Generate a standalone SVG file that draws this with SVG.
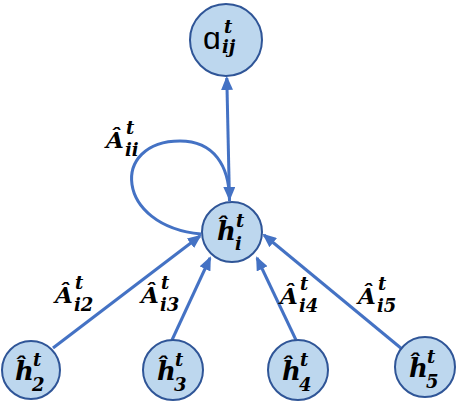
<svg xmlns="http://www.w3.org/2000/svg" width="457" height="404" viewBox="0 0 457 404">
<defs>
<style>
.node{fill:#BDD7EE;stroke:#2F5597;stroke-width:2}
.edge{fill:none;stroke:#4472C4;stroke-width:3;marker-end:url(#ah)}
.m{font-family:"DejaVu Serif","Liberation Serif",serif;font-weight:bold;font-style:italic;fill:#000}
.big{font-size:26px}
.lab{font-size:23px}
.s{font-size:18px}
.al{font-family:"Liberation Sans","DejaVu Sans",sans-serif;font-size:32px;fill:#000}
</style>
<marker id="ah" markerUnits="userSpaceOnUse" markerWidth="14" markerHeight="12" refX="12" refY="6" orient="auto">
<path d="M0,0 L14,6 L0,12 z" fill="#4472C4"/>
</marker>
</defs>
<rect width="457" height="404" fill="#fff"/>
<g id="edges">
<path class="edge" d="M229.5 201 L226.8 78"/>
<path class="edge" d="M201 234 C115 226,110 141,180 141 C214 141,229 166,229.5 199"/>
<path class="edge" d="M53 348 L200 236"/>
<path class="edge" d="M172 340 L210 258"/>
<path class="edge" d="M296 340 L257 258"/>
<path class="edge" d="M402 349 L264 235"/>
</g>
<g id="labels">
<text class="m"><tspan class="lab" x="106" y="148">Â</tspan><tspan class="s" x="126" y="134">t</tspan><tspan class="s" x="125" y="156">ii</tspan></text>
<text class="m"><tspan class="lab" x="55" y="303">Â</tspan><tspan class="s" x="75" y="289">t</tspan><tspan class="s" x="74" y="311">i2</tspan></text>
<text class="m"><tspan class="lab" x="141" y="303">Â</tspan><tspan class="s" x="161" y="289">t</tspan><tspan class="s" x="160" y="311">i3</tspan></text>
<text class="m"><tspan class="lab" x="280" y="304">Â</tspan><tspan class="s" x="300" y="290">t</tspan><tspan class="s" x="299" y="312">i4</tspan></text>
<text class="m"><tspan class="lab" x="358" y="304">Â</tspan><tspan class="s" x="378" y="290">t</tspan><tspan class="s" x="377" y="312">i5</tspan></text>
</g>
<g id="alpha">
<circle class="node" cx="226" cy="40" r="36"/>
<text class="al" x="203" y="49">ɑ</text>
<text class="m s"><tspan x="224" y="33">t</tspan><tspan x="222" y="53">ij</tspan></text>
</g>
<g id="hi">
<circle class="node" cx="232" cy="232" r="30"/>
<text class="m"><tspan class="big" x="217" y="240">ĥ</tspan><tspan class="s" x="236" y="227">t</tspan><tspan class="s" x="235" y="250">i</tspan></text>
</g>
<g id="h2">
<circle class="node" cx="31" cy="370" r="29"/>
<text class="m"><tspan class="big" x="15" y="380">ĥ</tspan><tspan class="s" x="33" y="366">t</tspan><tspan class="s" x="32" y="391">2</tspan></text>
</g>
<g id="h3">
<circle class="node" cx="173" cy="370" r="30"/>
<text class="m"><tspan class="big" x="157" y="380">ĥ</tspan><tspan class="s" x="175" y="366">t</tspan><tspan class="s" x="174" y="391">3</tspan></text>
</g>
<g id="h4">
<circle class="node" cx="298" cy="370" r="30"/>
<text class="m"><tspan class="big" x="282" y="380">ĥ</tspan><tspan class="s" x="300" y="366">t</tspan><tspan class="s" x="299" y="391">4</tspan></text>
</g>
<g id="h5">
<circle class="node" cx="425" cy="367" r="30"/>
<text class="m"><tspan class="big" x="409" y="377">ĥ</tspan><tspan class="s" x="427" y="363">t</tspan><tspan class="s" x="426" y="388">5</tspan></text>
</g>
</svg>
